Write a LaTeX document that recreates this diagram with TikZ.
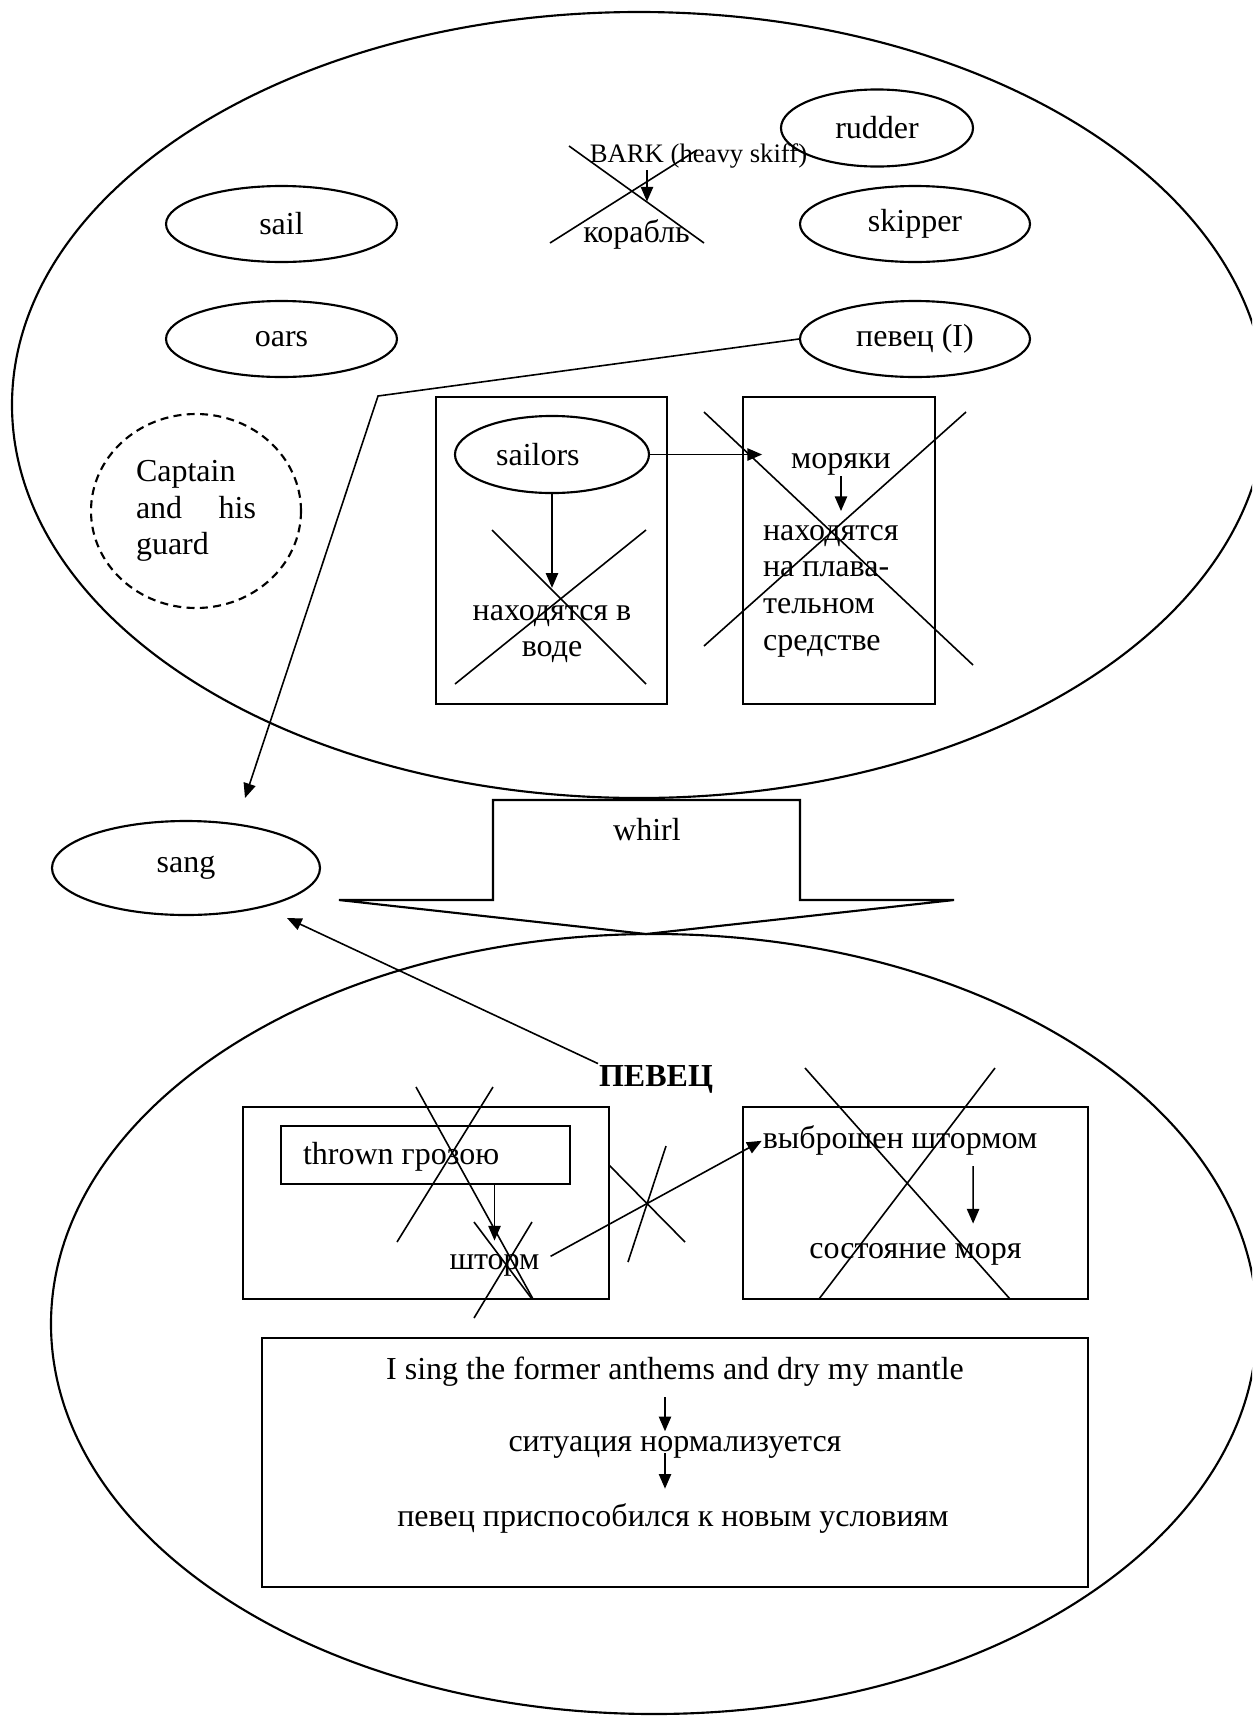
\documentclass[tikz,border=0pt]{standalone}
\usepackage{fontspec}
\setmainfont{Liberation Serif}
\usetikzlibrary{shapes.geometric,arrows.meta,calc}
\newcommand{\natsp}{\spaceskip=\fontdimen2\font\relax}
\begin{document}
\begin{tikzpicture}[x=0.375pt,y=-0.375pt,
  every node/.style={font=\fontsize{12pt}{13.8pt}\selectfont},
  oval/.style={draw, ellipse, line width=0.8pt, inner sep=0pt},
  box/.style={draw, rectangle, line width=0.8pt, inner sep=0pt},
  txt/.style={inner sep=0pt, text height=8pt, text depth=2.6pt, anchor=base},
  arr/.style={-{Triangle[length=5.5pt,width=4.6pt]}, line width=0.6pt},
  cross/.style={line width=0.6pt},
  line width=0.8pt]
\useasboundingbox (0,0) rectangle (1252,1717);
\clip (0,0) rectangle (1252,1717);

% big containers
\node[oval, minimum width=470.25pt, minimum height=294.75pt] (top) at (639,405) {};
\node[oval, minimum width=452.25pt, minimum height=292.5pt] (bottom) at (654,1324) {};

% top ellipse contents
\node[oval, minimum width=86.6pt, minimum height=28.5pt] (sail) at (281.5,224) {sail};
\node[oval, minimum width=86.6pt, minimum height=28.5pt] (oars) at (281.5,339) {oars};
\node[oval, minimum width=72pt, minimum height=28.9pt] (rudder) at (877,128) {rudder};
\node[oval, minimum width=86.25pt, minimum height=28.5pt] (skipper) at (915,224) {skipper};
\node[oval, minimum width=86.25pt, minimum height=28.5pt] (pevecI) at (915,339) {певец (I)};
\node[txt, font=\fontsize{10pt}{12pt}\selectfont] (bark) at (698.5,162) {BARK (heavy skiff)};
\node[txt] (korabl) at (636.5,242) {корабль};

\node[oval, dashed, dash pattern=on 3pt off 2pt, minimum width=78.75pt, minimum height=72.75pt,
      text width=45pt, align=left, font=\fontsize{12pt}{13.8pt}\selectfont] (captain) at (196,511)
      {Captain\\ \makebox[45pt][l]{and\hfill his}\\ guard};

\node[box, minimum width=86.625pt, minimum height=115.125pt] (boxL) at (551.5,550.5) {};
\node[box, minimum width=72pt, minimum height=115.125pt] (boxR) at (839,550.5) {};
\node[oval, minimum width=72.75pt, minimum height=28.9pt] (sailors) at (552,454.5) {sailors\hspace*{10.6pt}};
\node[inner sep=0pt, text width=70pt, align=center, anchor=base] (voda) at (552,620) {\natsp находятся в\\воде};
\node[txt] (moryaki) at (841,468) {моряки};
\node[inner sep=0pt, text width=60pt, align=left, anchor=base west] (plav) at (762,540)
      {\natsp находятся\\на плава-\\тельном\\средстве};

% outside
\node[oval, minimum width=100.5pt, minimum height=35.25pt] (sang) at (186,868) {sang};
\draw[fill=white] (493,800) -- (800,800) -- (800,900) -- (954,900) -- (646,934) -- (339,900) -- (493,900) -- cycle;
\node (whirl) at (647,830) {whirl};

% bottom ellipse contents
\node[txt, font=\fontsize{12pt}{13.8pt}\selectfont\bfseries] (pevec2) at (656,1086) {ПЕВЕЦ};
\node[box, minimum width=137.25pt, minimum height=72pt] (boxLL) at (426,1203) {};
\node[box, minimum width=108.375pt, minimum height=21.75pt, text width=91.875pt, align=left,
      inner xsep=8.25pt, text height=10pt, text depth=2.6pt] (thrown) at (425.5,1155) {\natsp thrown грозою};
\node[txt] (shtorm) at (494.5,1269) {шторм};
\node[box, minimum width=129.375pt, minimum height=72pt] (boxLR) at (915.5,1203) {};
\node[txt] (vybroshen) at (900,1148) {выброшен штормом};
\node[txt] (sostoyanie) at (915.5,1258) {состояние моря};
\node[box, minimum width=309.75pt, minimum height=93.375pt] (boxBot) at (675,1462.5) {};
\node[txt] (ising) at (675,1379) {I sing the former anthems and dry my mantle};
\node[txt] (situacia) at (675,1451) {ситуация нормализуется};
\node[txt] (pevec3) at (673,1526) {певец приспособился к новым условиям};

% connectors
\draw[arr, shorten >=6.75pt] ([xshift=-19.3pt]bark.south) -- ([xshift=3.9pt]korabl.north);
\draw[arr, shorten >=6pt] (sailors.south) -- (sailors.south |- voda.north);
\draw[arr, shorten >=10.5pt] (sailors.east) -- (sailors.east -| moryaki.west);
\draw[arr, shorten >=4.8pt] (moryaki.south) -- (moryaki.south |- plav.north);
\coordinate (bend) at (378,396);
\coordinate (sangtip) at (245,798);
\draw[arr] (pevecI.west) -- (bend) -- (sangtip);
\coordinate (sangtip2) at (287,918);
\draw[arr] (pevec2.north west) -- (sangtip2);
\draw[arr, shorten >=2.25pt] (shtorm.north |- thrown.south) -- (shtorm.north);
\draw[arr, shorten <=4.3pt] (shtorm.east) -- (vybroshen.west);
\draw[arr, shorten <=3.75pt, shorten >=4.5pt] ([xshift=27.4pt]vybroshen.south) -- ([xshift=21.6pt]sostoyanie.north);
\draw[arr, shorten <=3.75pt, shorten >=-1pt] ([xshift=-3.75pt]ising.south) -- ([xshift=-3.75pt]situacia.north);
\draw[arr, shorten <=-2.25pt, shorten >=5.6pt] ([xshift=-3.75pt]situacia.south) -- ([xshift=-3pt]pevec3.north);

% crossings-out
\draw[cross] (569,146) -- (704,243) (550,243) -- (697,150);
\draw[cross] (492,530) -- (646,684) (455,684) -- (646,530);
\draw[cross] (704,412) -- (973,665) (704,646) -- (966,412);
\draw[cross] (416,1087) -- (533,1299) (493,1087) -- (397,1242);
\draw[cross] (474,1222) -- (532,1299) (532,1222) -- (474,1318);
\draw[cross] (609,1165) -- (685,1242) (666,1146) -- (628,1262);
\draw[cross] (805,1068) -- (1010,1299) (819,1299) -- (995,1068);
\end{tikzpicture}
\end{document}
